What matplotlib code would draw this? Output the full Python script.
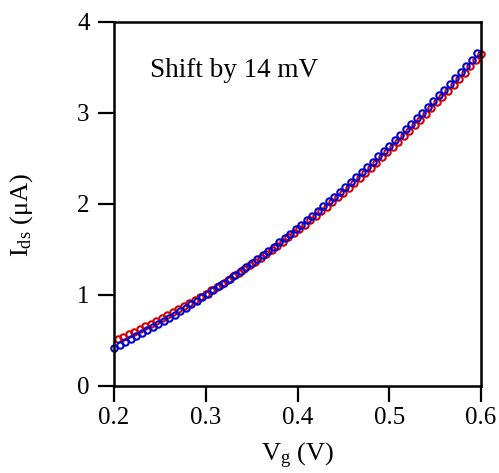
import matplotlib
matplotlib.use("Agg")
import matplotlib.pyplot as plt

plt.rcParams["font.family"] = "Liberation Serif"
plt.rcParams["mathtext.fontset"] = "custom"
plt.rcParams["mathtext.rm"] = "Liberation Serif"
plt.rcParams["mathtext.it"] = "Liberation Serif:italic"

# gate voltage (V) and drain-source current (uA), red trace
vg_red = [0.204, 0.210, 0.216, 0.222, 0.228, 0.234, 0.240, 0.246, 0.252, 0.258,
          0.264, 0.270, 0.276, 0.282, 0.288, 0.294, 0.300, 0.306, 0.312, 0.318,
          0.324, 0.330, 0.336, 0.342, 0.348, 0.354, 0.360, 0.366, 0.372, 0.378,
          0.384, 0.390, 0.396, 0.402, 0.408, 0.414, 0.420, 0.426, 0.432, 0.438,
          0.444, 0.450, 0.456, 0.462, 0.468, 0.474, 0.480, 0.486, 0.492, 0.498,
          0.504, 0.510, 0.516, 0.522, 0.528, 0.534, 0.540, 0.546, 0.552, 0.558,
          0.564, 0.570, 0.576, 0.582, 0.588, 0.594, 0.600]
ids_red = [0.517, 0.543, 0.570, 0.597, 0.626, 0.654, 0.684, 0.714, 0.745, 0.776,
           0.808, 0.841, 0.874, 0.908, 0.943, 0.978, 1.014, 1.051, 1.088, 1.126,
           1.164, 1.204, 1.244, 1.284, 1.325, 1.367, 1.410, 1.453, 1.497, 1.541,
           1.586, 1.632, 1.679, 1.725, 1.774, 1.822, 1.871, 1.921, 1.971, 2.022,
           2.074, 2.126, 2.179, 2.233, 2.287, 2.342, 2.398, 2.454, 2.511, 2.569,
           2.627, 2.686, 2.745, 2.806, 2.866, 2.928, 2.990, 3.053, 3.116, 3.181,
           3.245, 3.311, 3.377, 3.444, 3.511, 3.579, 3.648]

# blue trace (shifted)
vg_blue = [0.200, 0.206, 0.212, 0.218, 0.224, 0.230, 0.236, 0.242, 0.248, 0.254,
           0.260, 0.266, 0.272, 0.278, 0.284, 0.290, 0.296, 0.302, 0.308, 0.314,
           0.320, 0.326, 0.332, 0.338, 0.344, 0.350, 0.356, 0.362, 0.368, 0.374,
           0.380, 0.386, 0.392, 0.398, 0.404, 0.410, 0.416, 0.422, 0.428, 0.434,
           0.440, 0.446, 0.452, 0.458, 0.464, 0.470, 0.476, 0.482, 0.488, 0.494,
           0.500, 0.506, 0.512, 0.518, 0.524, 0.530, 0.536, 0.542, 0.548, 0.554,
           0.560, 0.566, 0.572, 0.578, 0.584, 0.590, 0.596]
ids_blue = [0.420, 0.450, 0.481, 0.513, 0.545, 0.577, 0.610, 0.644, 0.678, 0.713,
            0.749, 0.785, 0.821, 0.859, 0.896, 0.935, 0.974, 1.013, 1.053, 1.094,
            1.135, 1.177, 1.219, 1.262, 1.306, 1.350, 1.395, 1.440, 1.486, 1.532,
            1.579, 1.627, 1.675, 1.724, 1.773, 1.823, 1.873, 1.924, 1.976, 2.028,
            2.081, 2.134, 2.188, 2.243, 2.298, 2.353, 2.409, 2.466, 2.524, 2.581,
            2.640, 2.699, 2.759, 2.819, 2.880, 2.941, 3.003, 3.066, 3.129, 3.193,
            3.257, 3.322, 3.387, 3.453, 3.520, 3.587, 3.655]

xticks = [0.2, 0.3, 0.4, 0.5, 0.6]
yticks = [0, 1, 2, 3, 4]

fig = plt.figure(figsize=(4.99, 4.73), dpi=100)
ax = fig.add_axes([0.2285, 0.184, 0.7355, 0.7695])

ax.plot(vg_red, ids_red, linestyle="none", marker="o", markersize=4.6,
        markerfacecolor="none", markeredgecolor="#d40000", markeredgewidth=1.5,
        clip_on=False)
ax.plot(vg_blue, ids_blue, linestyle="none", marker="o", markersize=4.6,
        markerfacecolor="none", markeredgecolor="#0000d0", markeredgewidth=1.5,
        clip_on=False)

ax.set_xlim(0.2, 0.6)
ax.set_ylim(0, 4)
ax.set_xticks(xticks)
ax.set_xticklabels([f"{v:.1f}" for v in xticks])
ax.set_yticks(yticks)
ax.set_yticklabels([str(v) for v in yticks])

for s in ax.spines.values():
    s.set_linewidth(1.8)
ax.tick_params(direction="out", length=11.5, width=1.6, labelsize=18)
ax.tick_params(axis="x", pad=4)
ax.tick_params(axis="y", pad=6)

ax.set_xlabel(r"V$_{\mathrm{g}}$ (V)", fontsize=19)
ax.xaxis.set_label_coords(0.5, -0.152)
ax.set_ylabel(r"I$_{\mathrm{ds}}$ ($\mathrm{\mu}$A)", fontsize=19)
ax.yaxis.set_label_coords(-0.215, 0.47)

ax.text(0.239, 3.47, "Shift by 14 mV", fontsize=19.5, va="center", ha="left")

fig.savefig("out.png", dpi=100)
